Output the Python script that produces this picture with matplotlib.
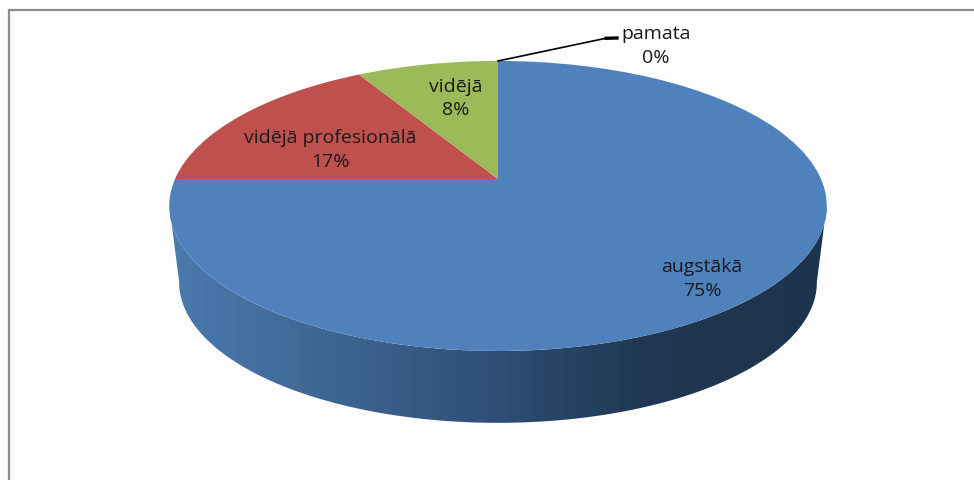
import numpy as np
import matplotlib
matplotlib.use("Agg")
import matplotlib.pyplot as plt
from matplotlib.transforms import Transform
from matplotlib.colors import LinearSegmentedColormap
from matplotlib.patches import Polygon

categories = ["augstākā", "vidējā profesionālā", "vidējā", "pamata"]
values = [75, 16.67, 8.33, 0]
slice_colors = ["#4F81BD", "#C0504D", "#9BBB59", "#7D60A0"]

W, H = 974, 481
CX, CY = 498.0, 180.0
A, B, K = 323.0, 140.0, 0.186
DEPTH, SHRINK = 77.0, 0.97
BG = "#FDFDFD"


class Perspective(Transform):
    """Unit pie circle -> pixel-space, with simple perspective foreshortening."""
    input_dims = output_dims = 2
    has_inverse = False

    def __init__(self, scale=1.0, drop=0.0):
        super().__init__()
        self.scale, self.drop = scale, drop

    def transform_non_affine(self, xy):
        xy = np.asarray(xy, float)
        w = 1 + K * xy[:, 1]
        return np.column_stack([
            CX + self.scale * A * xy[:, 0] / w,
            CY + self.drop - self.scale * B * xy[:, 1] / w,
        ])


fig = plt.figure(figsize=(W / 100, H / 100), dpi=100, facecolor=BG)
ax = fig.add_axes([0, 0, 1, 1])

wedges, _ = ax.pie(values, colors=slice_colors, startangle=90, counterclock=False,
                   wedgeprops=dict(linewidth=0))
ax.set_aspect("auto")
ax.set_xlim(0, W)
ax.set_ylim(H, 0)
ax.axis("off")

top_map = Perspective()
for w in wedges:
    w.set_transform(top_map + ax.transData)
    w.set_zorder(3)

# Side wall: silhouette between the top rim and the smaller, lower rim
t = np.linspace(0, 2 * np.pi, 721)
circle = np.column_stack([np.cos(t), np.sin(t)])
top = top_map.transform_non_affine(circle)
low = Perspective(SHRINK, DEPTH).transform_non_affine(circle)


def front(rim):
    il, ir = rim[:, 0].argmin(), rim[:, 0].argmax()
    idx = np.arange(il, ir + 1) if il < ir else np.r_[il:len(rim), 0:ir + 1]
    return rim[idx]


wall = np.vstack([front(low), front(top)[::-1]])
cmap = LinearSegmentedColormap.from_list(
    "side", [(0, "#4A79AE"), (0.25, "#3E6592"), (0.5, "#2E4E74"),
             (0.72, "#203853"), (1, "#1E334E")])
grad = np.round(np.linspace(0, 1, 60) * 59)[None, :]
im = ax.imshow(grad, extent=(170, 827, 430, 200), cmap=cmap, aspect="auto", zorder=2,
               interpolation="nearest")
ax.set_xlim(0, W)
ax.set_ylim(H, 0)
clip = Polygon(wall, closed=True, transform=ax.transData, facecolor="none", edgecolor="none")
ax.add_patch(clip)
im.set_clip_path(clip)

# Chart frame: only the top and left edges fall inside the crop
ax.plot([8.5, 8.5, W], [H, 11, 11], color="#8C8C8C", lw=1.6, zorder=1,
        solid_joinstyle="miter")

# Leader line of the zero slice
ax.plot([498, 607], [62, 39], color="black", lw=1.2, zorder=4)
ax.plot([606, 617], [39.3, 39], color="black", lw=2.4, zorder=4)

label_pos = [(702, 279), (330, 150), (456, 98.5), (656, 46)]
total = sum(values)
for cat, val, (x, y) in zip(categories, values, label_pos):
    ax.text(x, y, f"{cat}\n{val / total * 100:.0f}%", ha="center", va="center",
            fontsize=14, family="Open Sans", color="#1A1A1A", linespacing=1.41, zorder=5)

fig.savefig("out.png", dpi=100, facecolor=BG)
